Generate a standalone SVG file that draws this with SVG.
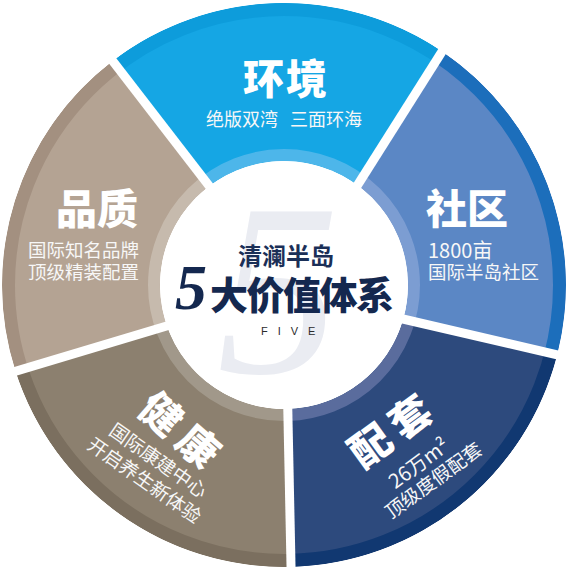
<svg xmlns="http://www.w3.org/2000/svg" width="568" height="569" viewBox="0 0 568 569">
<style>
.t{font-family:'Noto Sans CJK SC','Noto Sans',sans-serif;font-weight:900;fill:#fff}
.s{font-family:'Noto Sans CJK SC','Noto Sans',sans-serif;font-weight:400;fill:#f7f7f7}
.gap{stroke:#fff;stroke-width:9;fill:none}
.ob{fill:none;stroke-width:13}
.ib{fill:none;stroke-width:12}
</style>
<defs>
<clipPath id="c1"><path d="M112.7,61 A282,282 0 0 1 442.1,51.4 L357.7,185.4 A124,124 0 0 0 209.3,185.9 Z"/></clipPath>
<clipPath id="c2"><path d="M442.1,51.4 A282,282 0 0 1 557.3,354.4 L403.2,319.5 A124,124 0 0 0 357.7,185.4 Z"/></clipPath>
<clipPath id="c3"><path d="M557.3,354.4 A282,282 0 0 1 290.6,566.9 L288,409 A124,124 0 0 0 403.2,319.5 Z"/></clipPath>
<clipPath id="c4"><path d="M290.6,566.9 A282,282 0 0 1 15.6,371.3 L166.9,325.9 A124,124 0 0 0 288,409 Z"/></clipPath>
<clipPath id="c5"><path d="M15.6,371.3 A282,282 0 0 1 112.7,61 L209.3,185.9 A124,124 0 0 0 166.9,325.9 Z"/></clipPath>
</defs>
<rect width="568" height="569" fill="#fff"/>
<g id="seg-huanjing" clip-path="url(#c1)">
<circle cx="284" cy="285" r="282" fill="#15a6e4"/>
<circle class="ob" cx="284" cy="285" r="275.5" stroke="#0d9cdb"/>
<circle class="ib" cx="284" cy="285" r="130" stroke="#4db6ea"/>
</g>
<g id="seg-shequ" clip-path="url(#c2)">
<circle cx="284" cy="285" r="282" fill="#5b87c5"/>
<circle class="ob" cx="284" cy="285" r="275.5" stroke="#1c6ebb"/>
<circle class="ib" cx="284" cy="285" r="130" stroke="#7c9dd2"/>
</g>
<g id="seg-peitao" clip-path="url(#c3)">
<circle cx="284" cy="285" r="282" fill="#2d4a7d"/>
<circle class="ob" cx="284" cy="285" r="275.5" stroke="#113871"/>
<circle class="ib" cx="284" cy="285" r="130" stroke="#5a6c9d"/>
</g>
<g id="seg-jiankang" clip-path="url(#c4)">
<circle cx="284" cy="285" r="282" fill="#8c806f"/>
<circle class="ob" cx="284" cy="285" r="275.5" stroke="#7b6f5f"/>
<circle class="ib" cx="284" cy="285" r="130" stroke="#a1988a"/>
</g>
<g id="seg-pinzhi" clip-path="url(#c5)">
<circle cx="284" cy="285" r="282" fill="#b4a393"/>
<circle class="ob" cx="284" cy="285" r="275.5" stroke="#a39080"/>
<circle class="ib" cx="284" cy="285" r="130" stroke="#c6baad"/>
</g>
<g id="gaps">
<line class="gap" x1="100" y1="44.5" x2="220" y2="200"/>
<line class="gap" x1="455" y1="31" x2="345" y2="205"/>
<line class="gap" x1="390" y1="316" x2="575" y2="359"/>
<line class="gap" x1="287.5" y1="395" x2="291.2" y2="575"/>
<line class="gap" x1="180" y1="322" x2="0" y2="376"/>
</g>
<g id="center">
<circle cx="284" cy="285" r="124" fill="#fff"/>
<text x="278" y="373" text-anchor="middle" font-family="'Liberation Serif',serif" font-style="italic" font-size="245" fill="#eaecf2">5</text>
<text x="286" y="265" text-anchor="middle" font-family="'Noto Sans CJK SC',sans-serif" font-weight="700" font-size="24" fill="#1b2f57">清澜半岛</text>
<text x="175" y="309" fill="#14284f"><tspan font-family="'Liberation Serif',serif" font-style="italic" font-weight="700" font-size="64">5</tspan><tspan dx="3" font-family="'Noto Sans CJK SC',sans-serif" font-weight="900" font-size="38" letter-spacing="-1.5">大价值体系</tspan></text>
<text x="261" y="335" font-family="'Liberation Sans',sans-serif" font-size="11" letter-spacing="10" fill="#2b2b2b">FIVE</text>
</g>
<g id="label-huanjing">
<text class="t" x="286" y="94" text-anchor="middle" font-size="41" letter-spacing="2">环境</text>
<text class="s" x="284" y="126" text-anchor="middle" font-size="18" xml:space="preserve" style="white-space:pre">绝版双湾   三面环海</text>
</g>
<g id="label-shequ">
<text class="t" x="426" y="224" font-size="41">社区</text>
<text class="s" x="428" y="258" font-size="20">1800亩</text>
<text class="s" x="428" y="279" font-size="18.5">国际半岛社区</text>
</g>
<g id="label-pinzhi">
<text class="t" x="138" y="224" text-anchor="end" font-size="41">品质</text>
<text class="s" x="139" y="257" text-anchor="end" font-size="18.5">国际知名品牌</text>
<text class="s" x="139" y="279" text-anchor="end" font-size="18.5">顶级精装配置</text>
</g>
<g id="label-jiankang">
<g transform="translate(179,431) rotate(41)"><text class="t" x="4" y="14" text-anchor="middle" font-size="41" letter-spacing="8">健康</text></g>
<g transform="translate(179,431) rotate(35)"><text class="s" x="0" y="43" text-anchor="middle" font-size="19">国际康建中心</text><text class="s" x="0" y="67" text-anchor="middle" font-size="19">开启养生新体验</text></g>
</g>
<g id="label-peitao">
<g transform="translate(391,432) rotate(-36)"><text class="t" x="4" y="14" text-anchor="middle" font-size="41" letter-spacing="8">配套</text>
<text class="s" x="4" y="49" text-anchor="middle" font-size="20">26万m²</text>
<text class="s" x="6" y="71" text-anchor="middle" font-size="19">顶级度假配套</text></g>
</g>
</svg>
